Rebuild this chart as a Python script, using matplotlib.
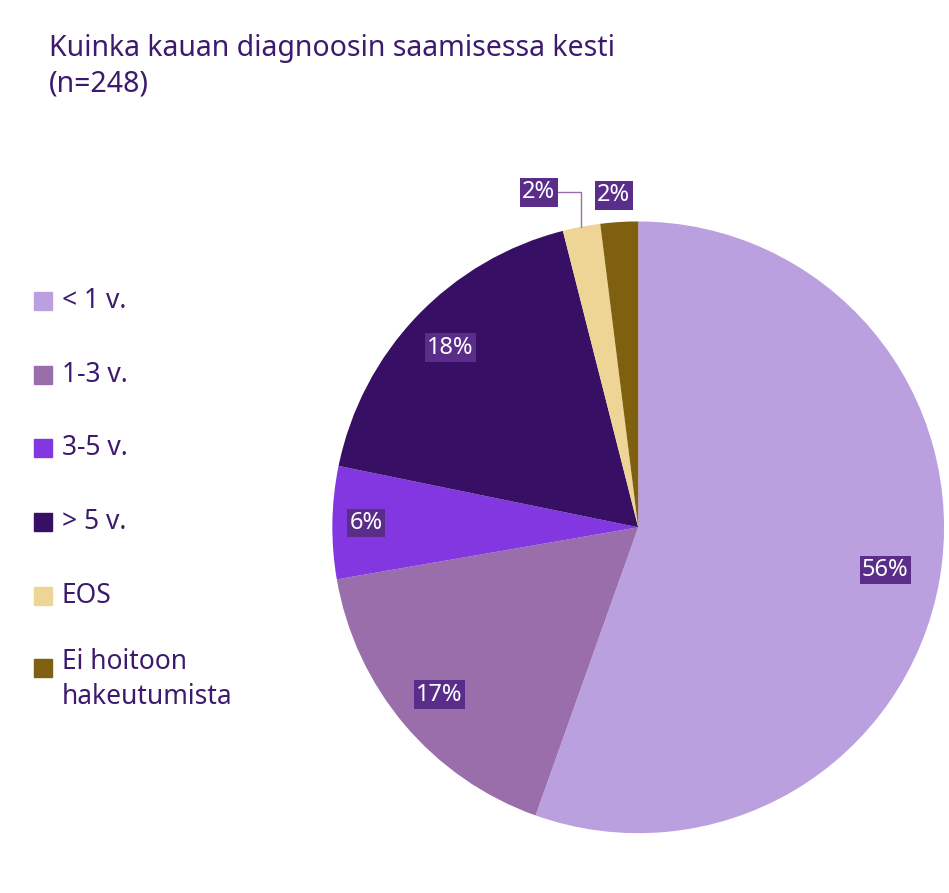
import matplotlib
matplotlib.use("Agg")
import matplotlib.pyplot as plt
import numpy as np
from matplotlib.patches import Rectangle

categories = ["< 1 v.", "1-3 v.", "3-5 v.", "> 5 v.", "EOS", "Ei hoitoon\nhakeutumista"]
values = [56, 17, 6, 18, 2, 2]
labels = ["56%", "17%", "6%", "18%", "2%", "2%"]
colors = ["#BBA0DF", "#9A6DAB", "#8237E0", "#371065", "#EED595", "#7F6010"]
title = "Kuinka kauan diagnoosin saamisessa kesti\n(n=248)"

plt.rcParams['font.family'] = ['Noto Sans', 'DejaVu Sans']
fig = plt.figure(figsize=(9.49, 8.93), dpi=100)
txtc = "#3D1A6E"
fig.text(0.052, 0.962, title, fontsize=20.5, color=txtc, va='top', linespacing=1.3)

ax = fig.add_axes([0.35, 0.067, 0.645, 0.685])
wedges, _ = ax.pie(values, colors=colors, startangle=90, counterclock=False)
ax.set_aspect('equal')
box = dict(boxstyle='square,pad=0.1', fc='#5B2D8A', ec='none')
radii = [0.82, 0.85, 0.89, 0.85]
for i, w in enumerate(wedges):
    ang = np.deg2rad((w.theta1 + w.theta2) / 2)
    x, y = np.cos(ang), np.sin(ang)
    if i < 4:
        ax.text(radii[i]*x, radii[i]*y, labels[i], ha='center', va='center',
                fontsize=17, fontweight='bold', color='white', bbox=box)
    elif i == 4:
        ax.annotate(labels[i], xy=(x*1.0, y*1.0), xytext=(x - 0.14, 1.095),
                    ha='center', va='center', fontsize=17, fontweight='bold', color='white', bbox=box,
                    arrowprops=dict(arrowstyle='-', color='#9A6DAB', lw=1, shrinkA=0, shrinkB=0,
                                    connectionstyle='angle,angleA=0,angleB=90'))
    else:
        ax.text(-0.08, 1.085, labels[i], ha='center', va='center',
                fontsize=17, fontweight='bold', color='white', bbox=box)
ax.set_xlim(-1, 1)
ax.set_ylim(-1, 1)

ys = [301, 375, 448, 522, 596, 668]
for c, lab, yp in zip(colors, categories, ys):
    fy = 1 - yp/893
    fig.patches.append(Rectangle((34/949, fy - 9/893), 18/949, 18/893, color=c, transform=fig.transFigure))
    if '\n' in lab:
        fig.text(62/949, fy + 20/893, lab, fontsize=19, color=txtc, va='top', linespacing=1.35)
    else:
        fig.text(62/949, fy, lab, fontsize=19, color=txtc, va='center')

fig.savefig("out.png", dpi=100)
